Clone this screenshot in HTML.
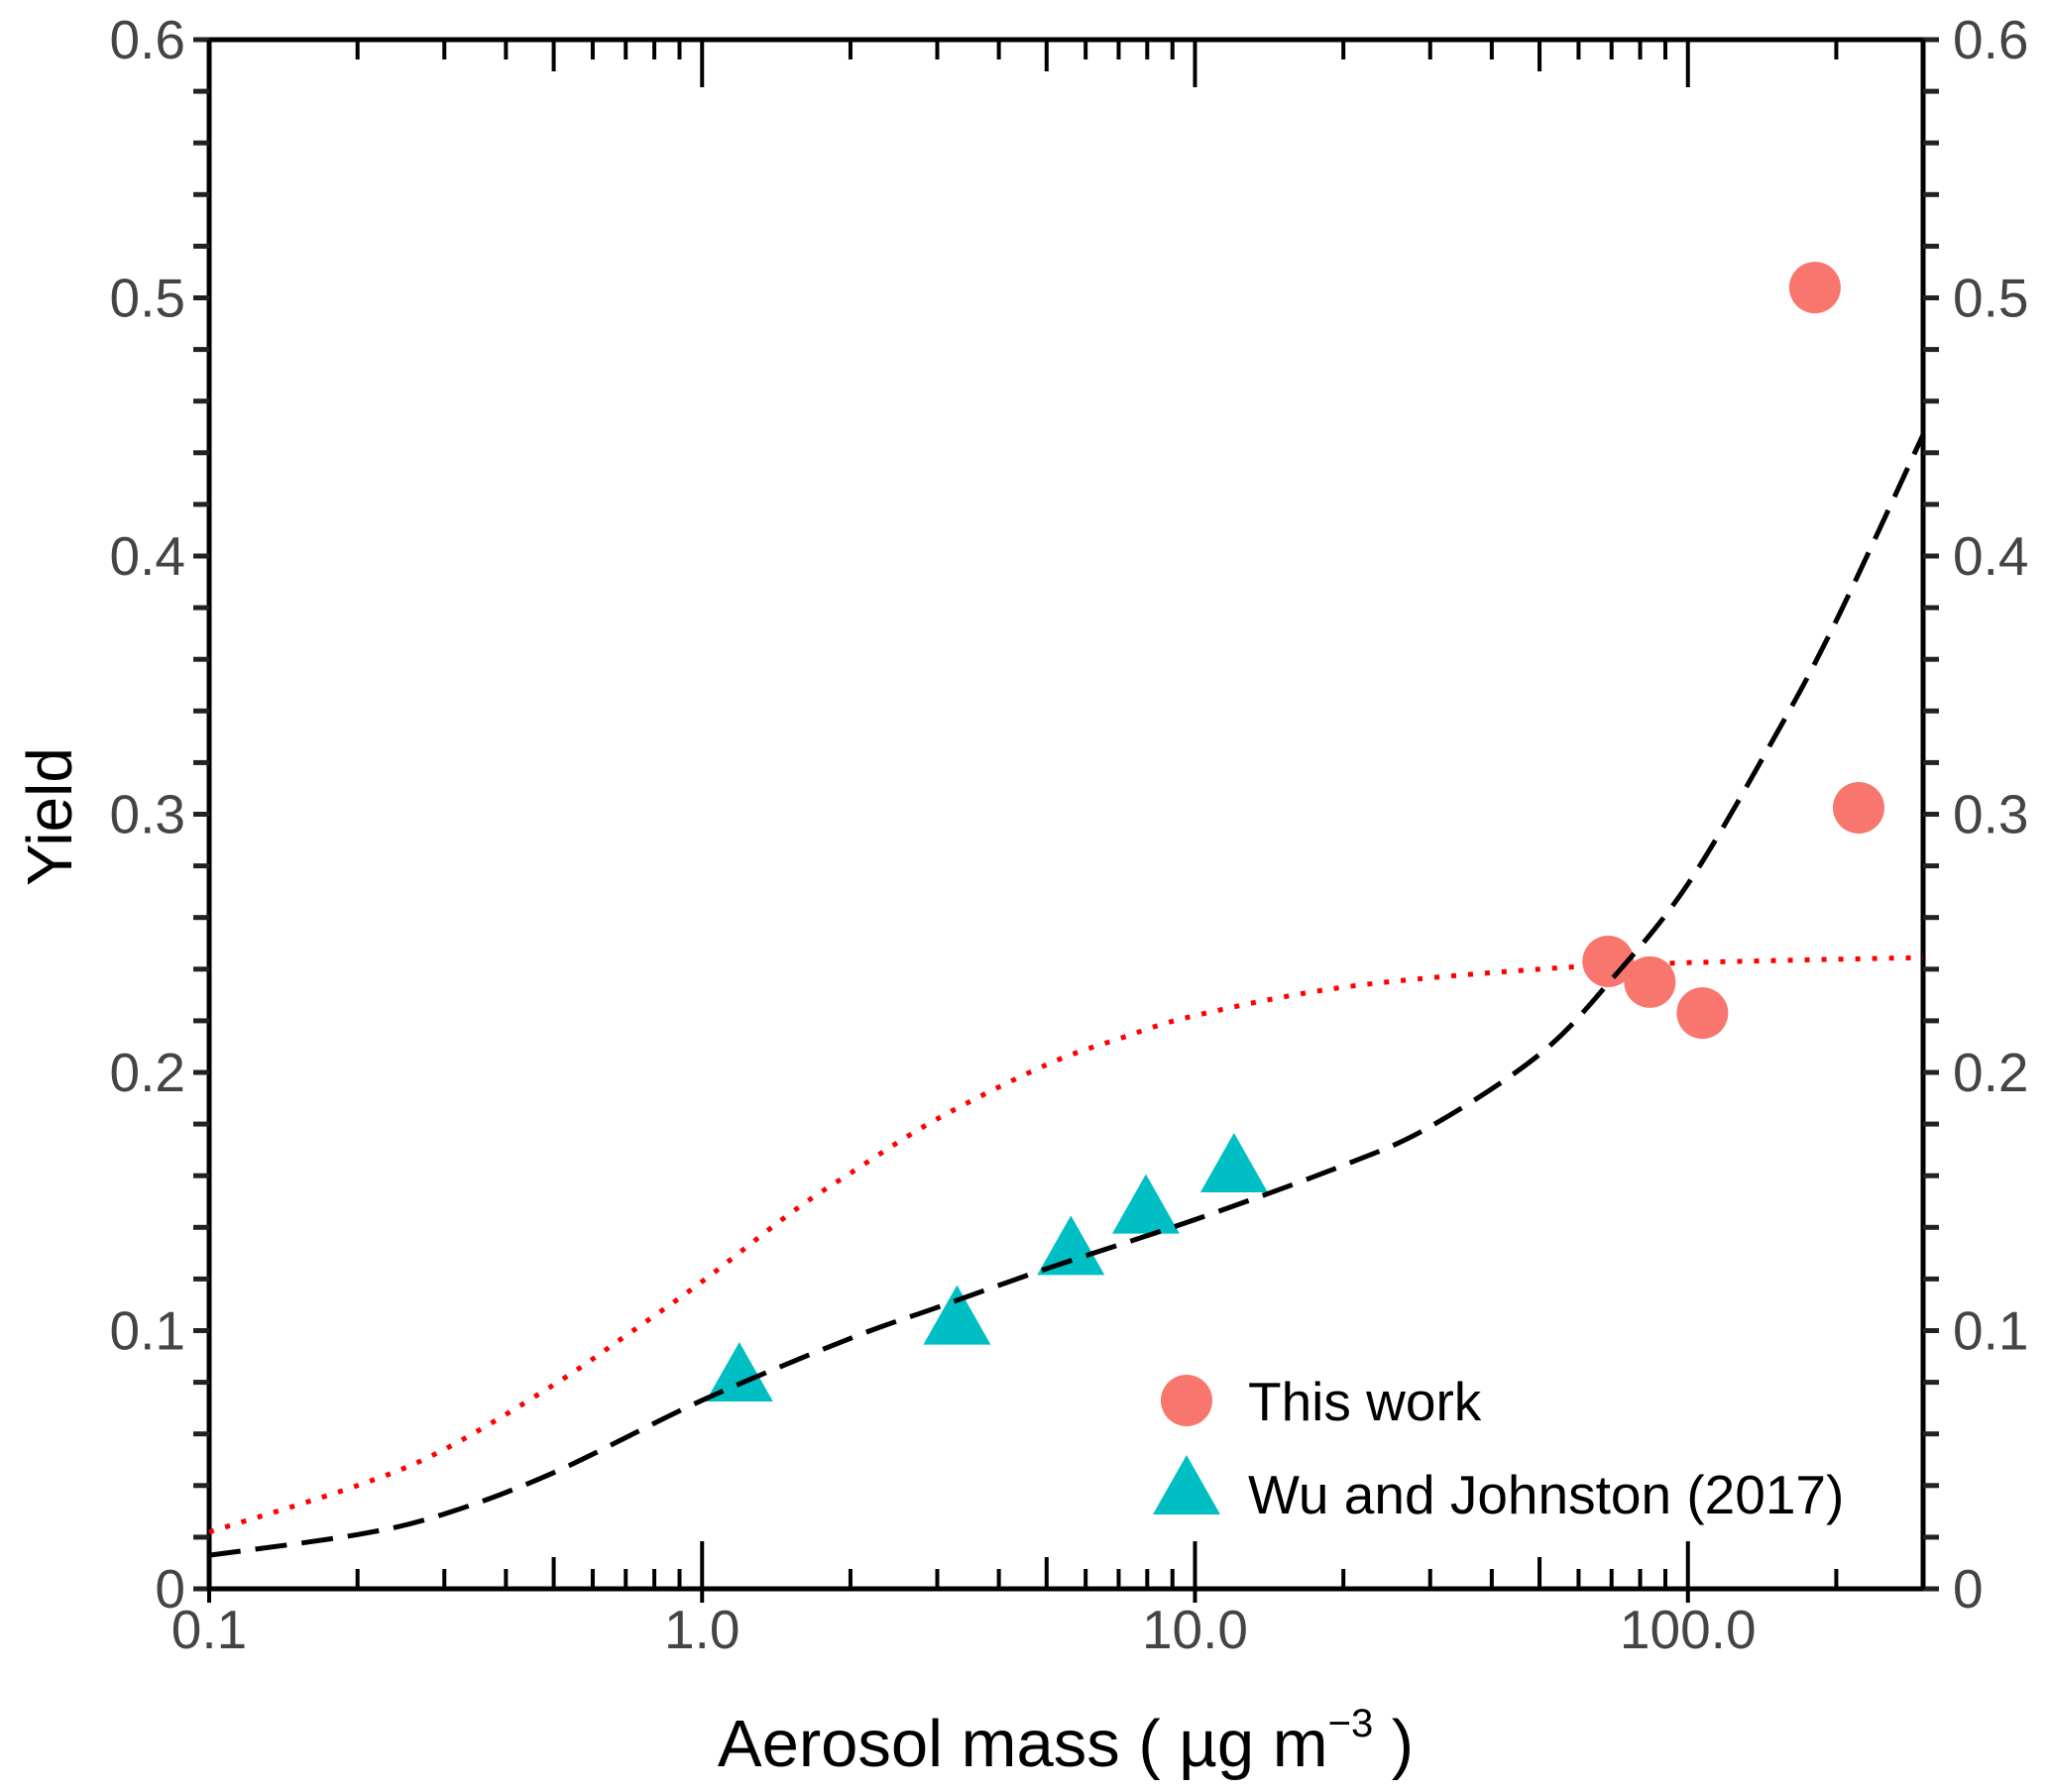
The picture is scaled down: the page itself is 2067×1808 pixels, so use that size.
<!DOCTYPE html>
<html><head><meta charset="utf-8"><style>
html,body{margin:0;padding:0;background:#fff;}
svg{display:block;font-family:"Liberation Sans",Arial,sans-serif;}
</style></head><body>
<svg id="chart" width="2067" height="1808" viewBox="0 0 2067 1808">
<rect width="2067" height="1808" fill="#fff"/>
<g id="grid"></g>
<g id="series"></g>
<g id="legend">
  <circle cx="1197" cy="1413" r="26" fill="#F8766D"/>
  <text x="1259" y="1433" font-size="55" fill="#000">This work</text>
  <polygon points="1197,1468 1231,1528 1163,1528" fill="#00BFC4"/>
  <text x="1259" y="1527" font-size="55" fill="#000">Wu and Johnston (2017)</text>
</g>
<text x="1075" y="1782" font-size="67" text-anchor="middle" fill="#000">Aerosol mass ( µg  m<tspan dy="-30" font-size="40">−3</tspan><tspan dy="30"> )</tspan></text>
<text transform="translate(72,824) rotate(-90)" font-size="64" text-anchor="middle" fill="#000">Yield</text>
</svg>
<script>
const xTicks=[0.1,1,10,100];
const xTickLabels=["0.1","1.0","10.0","100.0"];
const yTicks=[0,0.1,0.2,0.3,0.4,0.5,0.6];
const yTickLabels=["0","0.1","0.2","0.3","0.4","0.5","0.6"];
const thisWorkX=[68.9,83.7,107,181,222];
const thisWorkY=[0.243,0.235,0.223,0.504,0.3025];
const wuX=[1.19,3.29,5.6,7.95,12.0];
const wuY=[0.081,0.103,0.13,0.146,0.162];
const fitBlackX=[0.1,0.2,0.3,0.5,1,2,3,5,10,20,30,50,70,100,150,200,300];
const fitBlackY=[0.013,0.021,0.029,0.045,0.073,0.097,0.109,0.124,0.143,0.164,0.179,0.207,0.236,0.273,0.330,0.375,0.447];
const fitRedX=[0.1,0.2,0.3,0.5,0.7,1,1.5,2,3,5,7,10,20,50,100,300];
const fitRedY=[0.022,0.040,0.054,0.079,0.098,0.119,0.145,0.161,0.182,0.203,0.213,0.222,0.233,0.240,0.2425,0.2445];

const L=211,R=1940,T=40,B=1603;
const xmin=Math.log10(0.1),xmax=Math.log10(300);
function sx(v){return L+(Math.log10(v)-xmin)/(xmax-xmin)*(R-L);}
function sy(v){return B-v/0.6*(B-T);}
const NS="http://www.w3.org/2000/svg";
function mk(tag,attrs,parent){const e=document.createElementNS(NS,tag);for(const k in attrs)e.setAttribute(k,attrs[k]);parent.appendChild(e);return e;}
const g=document.getElementById('grid'),s=document.getElementById('series');

let frame=mk('rect',{x:L,y:T,width:R-L,height:B-T,fill:'none',stroke:'#000','stroke-width':5},g);



for(let i=0;i<=30;i++){
  const v=i*0.02,y=sy(v);
  const tl=mk('line',{x1:L-16,x2:L,y1:y,y2:y,stroke:'#222','stroke-width':5},g);
  
  
  const tr=mk('line',{x1:R,x2:R+16,y1:y,y2:y,stroke:'#222','stroke-width':5},g);
  
  
}
yTicks.forEach((v,i)=>{
  const a=mk('text',{x:L-24,y:sy(v)+19,'font-size':55,'text-anchor':'end',fill:'#444'},g);
  a.textContent=yTickLabels[i];
  
  
  const b=mk('text',{x:R+30,y:sy(v)+19,'font-size':55,'text-anchor':'start',fill:'#444'},g);
  b.textContent=yTickLabels[i];
  
  
});
for(let d=-1;d<=2;d++){
  for(let m=1;m<=9;m++){
    const v=m*Math.pow(10,d);
    if(v>300)continue;
    const len=m===1?48:(m===5?32:20);
    const x=sx(v);
    const tb=mk('line',{x1:x,x2:x,y1:B-len,y2:B+(m===1?14:0),stroke:'#000','stroke-width':4},g);
    
    
    const tt=mk('line',{x1:x,x2:x,y1:T,y2:T+len,stroke:'#000','stroke-width':4},g);
    
    
  }
}
xTicks.forEach((v,i)=>{
  const t=mk('text',{x:sx(v),y:1663,'font-size':55,'text-anchor':'middle',fill:'#444'},g);
  t.textContent=xTickLabels[i];
  
  
});

function smooth(xs,ys){
  const p=xs.map((v,i)=>[sx(v),sy(ys[i])]);
  let d='M'+p[0][0]+','+p[0][1];
  for(let i=0;i<p.length-1;i++){
    const p0=p[i-1]||p[i],p1=p[i],p2=p[i+1],p3=p[i+2]||p[i+1];
    const c1=[p1[0]+(p2[0]-p0[0])/6,p1[1]+(p2[1]-p0[1])/6];
    const c2=[p2[0]-(p3[0]-p1[0])/6,p2[1]-(p3[1]-p1[1])/6];
    d+=' C'+c1[0]+','+c1[1]+' '+c2[0]+','+c2[1]+' '+p2[0]+','+p2[1];
  }
  return d;
}
const red=mk('path',{d:smooth(fitRedX,fitRedY),fill:'none',stroke:'#ff0000','stroke-width':5,'stroke-dasharray':'5 12'},s);



thisWorkX.forEach((v,i)=>{
  const c=mk('circle',{cx:sx(v),cy:sy(thisWorkY[i]),r:26,fill:'#F8766D'},s);
  
  
});
wuX.forEach((v,i)=>{
  const x=sx(v),y=sy(wuY[i]);
  const t=mk('polygon',{points:(x)+','+(y-38)+' '+(x+34)+','+(y+22)+' '+(x-34)+','+(y+22),fill:'#00BFC4'},s);
  
  
});
const blk=mk('path',{d:smooth(fitBlackX,fitBlackY),fill:'none',stroke:'#000','stroke-width':5,'stroke-dasharray':'32 15'},s);


</script>
</body></html>
